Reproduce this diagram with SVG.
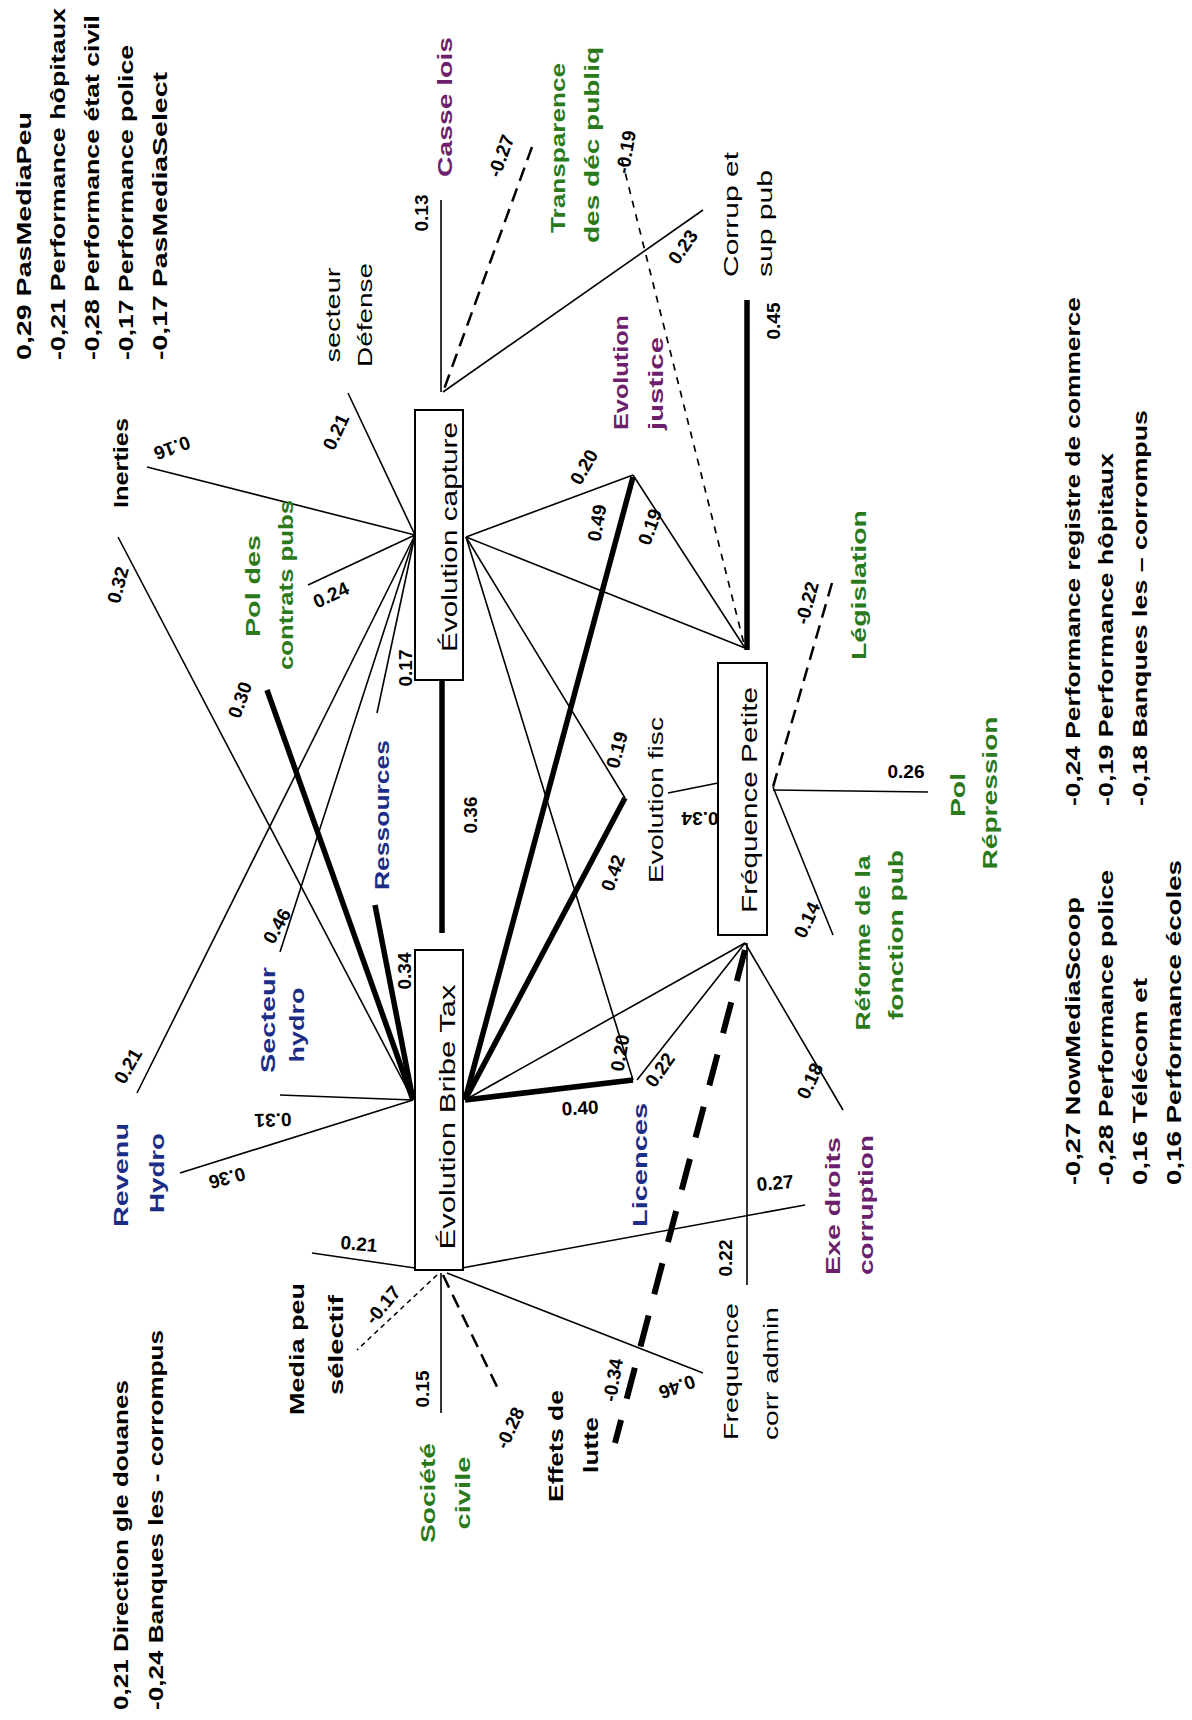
<svg xmlns="http://www.w3.org/2000/svg" width="1192" height="1720" viewBox="0 0 1192 1720">
<style>
text{font-family:"Liberation Sans",Arial,sans-serif;fill:#000}
.lg{font-size:21px;font-weight:bold}
.nb{font-size:21px;font-weight:bold}
.nr{font-size:21px;font-weight:normal}
.bx{font-size:22px;font-weight:normal}
.e{font-size:19px;font-weight:bold;dominant-baseline:central;text-anchor:middle}
.g{fill:#2a7a1c}
.b{fill:#1c2d88}
.p{fill:#6c1f6c}
.t{stroke:#000;stroke-width:1.6;fill:none}
.k{stroke:#000;stroke-width:5.5;fill:none}
.d{stroke:#000;stroke-width:2.5;stroke-dasharray:14 8;fill:none}
.ds{stroke:#000;stroke-width:1.7;stroke-dasharray:7 7;fill:none}
.dk{stroke:#000;stroke-width:6;stroke-dasharray:32 22;fill:none}
.box{fill:#fff;stroke:#000;stroke-width:2}
</style>
<rect width="1192" height="1720" fill="#fff"/>
<g id="connectors">
<line class="t" x1="348" y1="393" x2="415" y2="535"/>
<line class="t" x1="147" y1="467" x2="415" y2="535"/>
<line class="t" x1="118" y1="537" x2="413" y2="1100"/>
<line class="t" x1="308" y1="585" x2="415" y2="535"/>
<line class="t" x1="137" y1="1093" x2="415" y2="535"/>
<line class="t" x1="280" y1="952" x2="415" y2="535"/>
<line class="t" x1="377" y1="713" x2="415" y2="535"/>
<line class="t" x1="280" y1="1095" x2="413" y2="1100"/>
<line class="t" x1="180" y1="1173" x2="413" y2="1100"/>
<line class="t" x1="441" y1="200" x2="441" y2="392"/>
<line class="t" x1="703" y1="210" x2="443" y2="392"/>
<line class="t" x1="466" y1="537" x2="633" y2="475"/>
<line class="t" x1="633" y1="475" x2="745" y2="648"/>
<line class="t" x1="466" y1="537" x2="745" y2="648"/>
<line class="t" x1="466" y1="537" x2="625" y2="798"/>
<line class="t" x1="466" y1="537" x2="633" y2="1080"/>
<line class="t" x1="668" y1="793" x2="718" y2="783"/>
<line class="t" x1="637" y1="1080" x2="745" y2="943"/>
<line class="t" x1="465" y1="1100" x2="745" y2="943"/>
<line class="t" x1="747" y1="943" x2="747" y2="1285"/>
<line class="t" x1="745" y1="943" x2="843" y2="1110"/>
<line class="t" x1="773" y1="787" x2="833" y2="935"/>
<line class="t" x1="773" y1="790" x2="928" y2="792"/>
<line class="t" x1="462" y1="1268" x2="805" y2="1205"/>
<line class="t" x1="312" y1="1253" x2="415" y2="1268"/>
<line class="t" x1="441" y1="1273" x2="441" y2="1413"/>
<line class="t" x1="447" y1="1273" x2="703" y2="1373"/>
<line class="k" x1="442" y1="680" x2="442" y2="933"/>
<line class="k" x1="267" y1="690" x2="413" y2="1100"/>
<line class="k" x1="375" y1="905" x2="413" y2="1100"/>
<line class="k" x1="633" y1="477" x2="465" y2="1100"/>
<line class="k" x1="625" y1="798" x2="465" y2="1100"/>
<line class="k" x1="633" y1="1080" x2="465" y2="1100"/>
<line class="k" x1="747" y1="300" x2="747" y2="650"/>
<line class="d" x1="532" y1="147" x2="443" y2="392"/>
<line class="ds" x1="622" y1="160" x2="745" y2="648"/>
<line class="d" x1="832" y1="583" x2="773" y2="787"/>
<line class="dk" x1="745" y1="950" x2="615" y2="1443"/>
<line class="d" x1="443" y1="1275" x2="500" y2="1393"/>
<line class="ds" style="stroke-width:1.5;stroke-dasharray:5 4" x1="437" y1="1275" x2="357" y2="1350"/>
</g>
<g id="node-capture">
<rect class="box" x="415" y="410" width="48" height="270"/>
<text class="bx" text-anchor="middle" textLength="230" lengthAdjust="spacingAndGlyphs" transform="translate(457,537) rotate(-90)">Évolution capture</text>
</g>
<g id="node-bribe">
<rect class="box" x="415" y="950" width="48" height="320"/>
<text class="bx" text-anchor="middle" textLength="265" lengthAdjust="spacingAndGlyphs" transform="translate(455,1117) rotate(-90)">Évolution Bribe Tax</text>
</g>
<g id="node-frequence">
<rect class="box" x="718" y="663" width="49" height="272"/>
<text class="bx" text-anchor="middle" textLength="226" lengthAdjust="spacingAndGlyphs" transform="translate(757,800) rotate(-90)">Fréquence Petite</text>
</g>
<g id="edge-labels">
<text class="e" transform="translate(336,432) rotate(-65)">0.21</text>
<text class="e" transform="translate(172,448) rotate(160)">0.16</text>
<text class="e" transform="translate(118,585) rotate(-75)">0.32</text>
<text class="e" transform="translate(331,595) rotate(-25)">0.24</text>
<text class="e" transform="translate(240,700) rotate(-70)">0.30</text>
<text class="e" transform="translate(277,926) rotate(-60)">0.46</text>
<text class="e" transform="translate(405,668) rotate(-90)">0.17</text>
<text class="e" transform="translate(128,1066) rotate(-60)">0.21</text>
<text class="e" transform="translate(273,1120) rotate(178)">0.31</text>
<text class="e" transform="translate(227,1178) rotate(165)">0.36</text>
<text class="e" transform="translate(404,971) rotate(-90)">0.34</text>
<text class="e" transform="translate(470,815) rotate(-90)">0.36</text>
<text class="e" transform="translate(421,213) rotate(-90)">0.13</text>
<text class="e" transform="translate(501,156) rotate(-70)">-0.27</text>
<text class="e" transform="translate(626,152) rotate(-80)">-0.19</text>
<text class="e" transform="translate(683,247) rotate(-55)">0.23</text>
<text class="e" transform="translate(773,321) rotate(-90)">0.45</text>
<text class="e" transform="translate(584,467) rotate(-60)">0.20</text>
<text class="e" transform="translate(597,523) rotate(-80)">0.49</text>
<text class="e" transform="translate(650,527) rotate(-70)">0.19</text>
<text class="e" transform="translate(617,750) rotate(-75)">0.19</text>
<text class="e" transform="translate(613,873) rotate(-70)">0.42</text>
<text class="e" transform="translate(700,818) rotate(180)">0.34</text>
<text class="e" transform="translate(807,603) rotate(-75)">-0.22</text>
<text class="e" transform="translate(906,771)">0.26</text>
<text class="e" transform="translate(807,920) rotate(-65)">0.14</text>
<text class="e" transform="translate(620,1053) rotate(-80)">0.20</text>
<text class="e" transform="translate(660,1070) rotate(-55)">0.22</text>
<text class="e" transform="translate(580,1108) rotate(-3)">0.40</text>
<text class="e" transform="translate(810,1081) rotate(-65)">0.18</text>
<text class="e" transform="translate(775,1183) rotate(-5)">0.27</text>
<text class="e" transform="translate(725,1258) rotate(-90)">0.22</text>
<text class="e" transform="translate(359,1244) rotate(5)">0.21</text>
<text class="e" transform="translate(383,1305) rotate(-50)">-0.17</text>
<text class="e" transform="translate(422,1389) rotate(-90)">0.15</text>
<text class="e" transform="translate(510,1428) rotate(-65)">-0.28</text>
<text class="e" transform="translate(613,1380) rotate(-80)">-0.34</text>
<text class="e" transform="translate(677,1387) rotate(160)">0.46</text>
</g>
<g id="node-secteur-defense">
<text class="nr" text-anchor="middle" textLength="95" lengthAdjust="spacingAndGlyphs" transform="translate(340,315) rotate(-90)">secteur</text>
<text class="nr" text-anchor="middle" textLength="104" lengthAdjust="spacingAndGlyphs" transform="translate(372,315) rotate(-90)">Défense</text>
</g>
<g id="node-inerties">
<text class="nb" text-anchor="middle" textLength="90" lengthAdjust="spacingAndGlyphs" transform="translate(128,463) rotate(-90)">Inerties</text>
</g>
<g id="node-pol-contrats">
<text class="nb g" text-anchor="middle" textLength="102" lengthAdjust="spacingAndGlyphs" transform="translate(260,586) rotate(-90)">Pol des</text>
<text class="nb g" text-anchor="middle" textLength="170" lengthAdjust="spacingAndGlyphs" transform="translate(293,585) rotate(-90)">contrats pubs</text>
</g>
<g id="node-ressources">
<text class="nb b" text-anchor="middle" textLength="150" lengthAdjust="spacingAndGlyphs" transform="translate(389,815) rotate(-90)">Ressources</text>
</g>
<g id="node-secteur-hydro">
<text class="nb b" text-anchor="middle" textLength="106" lengthAdjust="spacingAndGlyphs" transform="translate(275,1020) rotate(-90)">Secteur</text>
<text class="nb b" text-anchor="middle" textLength="75" lengthAdjust="spacingAndGlyphs" transform="translate(304,1025) rotate(-90)">hydro</text>
</g>
<g id="node-revenu-hydro">
<text class="nb b" text-anchor="middle" textLength="104" lengthAdjust="spacingAndGlyphs" transform="translate(128,1175) rotate(-90)">Revenu</text>
<text class="nb b" text-anchor="middle" textLength="80" lengthAdjust="spacingAndGlyphs" transform="translate(164,1173) rotate(-90)">Hydro</text>
</g>
<g id="node-casse-lois">
<text class="nb p" text-anchor="middle" textLength="140" lengthAdjust="spacingAndGlyphs" transform="translate(452,107) rotate(-90)">Casse lois</text>
</g>
<g id="node-transparence">
<text class="nb g" text-anchor="middle" textLength="170" lengthAdjust="spacingAndGlyphs" transform="translate(565,148) rotate(-90)">Transparence</text>
<text class="nb g" text-anchor="middle" textLength="196" lengthAdjust="spacingAndGlyphs" transform="translate(599,145) rotate(-90)">des déc publiq</text>
</g>
<g id="node-corrup">
<text class="nr" textLength="125" lengthAdjust="spacingAndGlyphs" transform="translate(738,277) rotate(-90)">Corrup et</text>
<text class="nr" textLength="107" lengthAdjust="spacingAndGlyphs" transform="translate(772,277) rotate(-90)">sup pub</text>
</g>
<g id="node-justice">
<text class="nb p" textLength="115" lengthAdjust="spacingAndGlyphs" transform="translate(628,430) rotate(-90)">Evolution</text>
<text class="nb p" textLength="93" lengthAdjust="spacingAndGlyphs" transform="translate(663,430) rotate(-90)">justice</text>
</g>
<g id="node-fisc">
<text class="nr" text-anchor="middle" textLength="166" lengthAdjust="spacingAndGlyphs" transform="translate(663,800) rotate(-90)">Evolution fisc</text>
</g>
<g id="node-legislation">
<text class="nb g" text-anchor="middle" textLength="150" lengthAdjust="spacingAndGlyphs" transform="translate(866,585) rotate(-90)">Législation</text>
</g>
<g id="node-pol-repression">
<text class="nb g" text-anchor="middle" textLength="44" lengthAdjust="spacingAndGlyphs" transform="translate(965,795) rotate(-90)">Pol</text>
<text class="nb g" text-anchor="middle" textLength="153" lengthAdjust="spacingAndGlyphs" transform="translate(997,793) rotate(-90)">Répression</text>
</g>
<g id="node-reforme">
<text class="nb g" text-anchor="middle" textLength="175" lengthAdjust="spacingAndGlyphs" transform="translate(870,943) rotate(-90)">Réforme de la</text>
<text class="nb g" text-anchor="middle" textLength="170" lengthAdjust="spacingAndGlyphs" transform="translate(903,935) rotate(-90)">fonction pub</text>
</g>
<g id="node-exe-droits">
<text class="nb p" text-anchor="middle" textLength="138" lengthAdjust="spacingAndGlyphs" transform="translate(840,1206) rotate(-90)">Exe droits</text>
<text class="nb p" text-anchor="middle" textLength="140" lengthAdjust="spacingAndGlyphs" transform="translate(873,1205) rotate(-90)">corruption</text>
</g>
<g id="node-licences">
<text class="nb b" text-anchor="middle" textLength="124" lengthAdjust="spacingAndGlyphs" transform="translate(647,1165) rotate(-90)">Licences</text>
</g>
<g id="node-frequence-corr">
<text class="nr" textLength="137" lengthAdjust="spacingAndGlyphs" transform="translate(738,1440) rotate(-90)">Frequence</text>
<text class="nr" textLength="133" lengthAdjust="spacingAndGlyphs" transform="translate(778,1440) rotate(-90)">corr admin</text>
</g>
<g id="node-effets">
<text class="nb" text-anchor="middle" textLength="112" lengthAdjust="spacingAndGlyphs" transform="translate(563,1446) rotate(-90)">Effets de</text>
<text class="nb" text-anchor="middle" textLength="56" lengthAdjust="spacingAndGlyphs" transform="translate(598,1445) rotate(-90)">lutte</text>
</g>
<g id="node-societe">
<text class="nb g" text-anchor="middle" textLength="100" lengthAdjust="spacingAndGlyphs" transform="translate(435,1493) rotate(-90)">Société</text>
<text class="nb g" text-anchor="middle" textLength="73" lengthAdjust="spacingAndGlyphs" transform="translate(470,1493) rotate(-90)">civile</text>
</g>
<g id="node-media">
<text class="nb" text-anchor="middle" textLength="132" lengthAdjust="spacingAndGlyphs" transform="translate(304,1349) rotate(-90)">Media peu</text>
<text class="nb" text-anchor="middle" textLength="100" lengthAdjust="spacingAndGlyphs" transform="translate(343,1345) rotate(-90)">sélectif</text>
</g>
<g id="legend-top-left">
<text class="lg" textLength="248" lengthAdjust="spacingAndGlyphs" transform="translate(31,360) rotate(-90)">0,29 PasMediaPeu</text>
<text class="lg" textLength="352" lengthAdjust="spacingAndGlyphs" transform="translate(65,360) rotate(-90)">-0,21 Performance hôpitaux</text>
<text class="lg" textLength="345" lengthAdjust="spacingAndGlyphs" transform="translate(99,360) rotate(-90)">-0,28 Performance état civil</text>
<text class="lg" textLength="315" lengthAdjust="spacingAndGlyphs" transform="translate(133,360) rotate(-90)">-0,17 Performance police</text>
<text class="lg" textLength="288" lengthAdjust="spacingAndGlyphs" transform="translate(167,360) rotate(-90)">-0,17 PasMediaSelect</text>
</g>
<g id="legend-bottom-left">
<text class="lg" textLength="330" lengthAdjust="spacingAndGlyphs" transform="translate(128,1710) rotate(-90)">0,21 Direction gle douanes</text>
<text class="lg" textLength="380" lengthAdjust="spacingAndGlyphs" transform="translate(163,1710) rotate(-90)">-0,24 Banques les - corrompus</text>
</g>
<g id="legend-right">
<text class="lg" textLength="509" lengthAdjust="spacingAndGlyphs" transform="translate(1080,806) rotate(-90)">-0,24 Performance registre de commerce</text>
<text class="lg" textLength="353" lengthAdjust="spacingAndGlyphs" transform="translate(1113,806) rotate(-90)">-0,19 Performance hôpitaux</text>
<text class="lg" textLength="396" lengthAdjust="spacingAndGlyphs" transform="translate(1147,806) rotate(-90)">-0,18 Banques les – corrompus</text>
</g>
<g id="legend-bottom-right">
<text class="lg" textLength="288" lengthAdjust="spacingAndGlyphs" transform="translate(1080,1185) rotate(-90)">-0,27 NowMediaScoop</text>
<text class="lg" textLength="315" lengthAdjust="spacingAndGlyphs" transform="translate(1113,1185) rotate(-90)">-0,28 Performance police</text>
<text class="lg" textLength="207" lengthAdjust="spacingAndGlyphs" transform="translate(1147,1185) rotate(-90)">0,16 Télécom et</text>
<text class="lg" textLength="325" lengthAdjust="spacingAndGlyphs" transform="translate(1181,1185) rotate(-90)">0,16 Performance écoles</text>
</g>
</svg>
